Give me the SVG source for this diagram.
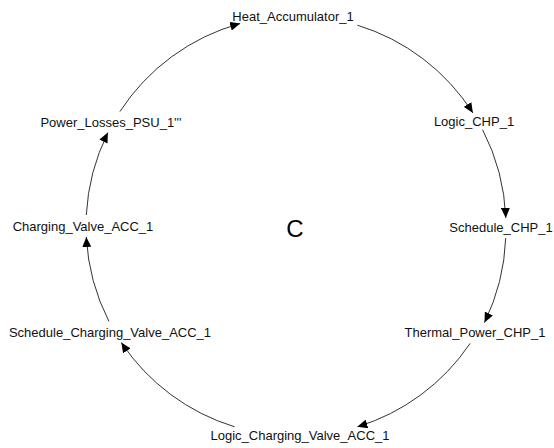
<svg xmlns="http://www.w3.org/2000/svg" width="554" height="448" viewBox="0 0 554 448">
<defs>
<marker id="arr" markerUnits="userSpaceOnUse" markerWidth="10" markerHeight="9" refX="10" refY="4.5" orient="auto">
<path d="M0,0 L10,4.5 L0,9 z" fill="#000"/>
</marker>
<style>
.lbl{font-family:"Liberation Sans",Arial,sans-serif;font-size:13px;fill:#111;text-anchor:middle}
.edge{fill:none;stroke:#333;stroke-width:1;marker-end:url(#arr)}
</style>
</defs>
<rect width="554" height="448" fill="#fff"/>
<g id="connectors">
<path class="edge" d="M357.4,25.2 A210,210 0 0 1 472.9,112.9"/>
<path class="edge" d="M482.6,129.7 A210,210 0 0 1 505.8,217.9"/>
<path class="edge" d="M505.7,238.1 A210,210 0 0 1 484.5,322.5"/>
<path class="edge" d="M470.1,343.4 A210,210 0 0 1 357.4,426.8"/>
<path class="edge" d="M234.6,426.8 A210,210 0 0 1 121.3,342.5"/>
<path class="edge" d="M108.9,321.3 A210,210 0 0 1 86.3,237.0"/>
<path class="edge" d="M86.3,215.0 A210,210 0 0 1 107.9,132.6"/>
<path class="edge" d="M119.9,111.6 A210,210 0 0 1 240.2,23.5"/>
</g>
<g id="heat_accumulator_1"><text class="lbl" x="293" y="21">Heat_Accumulator_1</text></g>
<g id="logic_chp_1"><text class="lbl" x="474" y="126">Logic_CHP_1</text></g>
<g id="schedule_chp_1"><text class="lbl" x="501" y="232">Schedule_CHP_1</text></g>
<g id="thermal_power_chp_1"><text class="lbl" x="475" y="337">Thermal_Power_CHP_1</text></g>
<g id="logic_charging_valve_acc_1"><text class="lbl" x="300" y="440">Logic_Charging_Valve_ACC_1</text></g>
<g id="schedule_charging_valve_acc_1"><text class="lbl" x="110" y="337">Schedule_Charging_Valve_ACC_1</text></g>
<g id="charging_valve_acc_1"><text class="lbl" x="83" y="231">Charging_Valve_ACC_1</text></g>
<g id="power_losses_psu_1"><text class="lbl" x="111" y="127">Power_Losses_PSU_1'''</text></g>
<g id="c"><text x="295" y="237" style="font-family:'Liberation Sans',Arial,sans-serif;font-size:24px;fill:#000;text-anchor:middle">C</text></g>
</svg>
